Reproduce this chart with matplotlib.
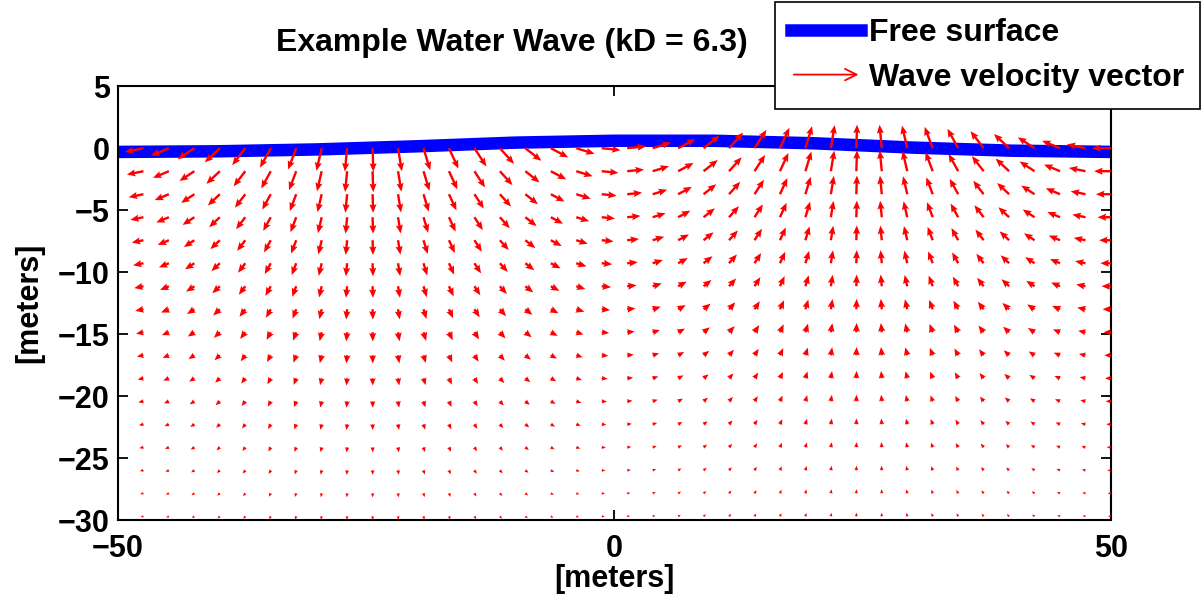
import numpy as np
import matplotlib
matplotlib.use("Agg")
import matplotlib.pyplot as plt
from matplotlib.lines import Line2D
from matplotlib.legend_handler import HandlerBase
from matplotlib.patches import FancyArrowPatch

plt.rcParams["font.family"] = ["Liberation Sans", "DejaVu Sans"]
plt.rcParams["font.weight"] = "bold"

# Wave parameters (one wavelength across the plot).
wavelength = 100.0        # m
kD = 6.3                  # k * water depth
surface_arrow_len = 1.9   # arrow length (m, data units) at the free surface

# Sampling grid of the velocity field.
grid_x_limits = [-50.0, 50.0]
grid_n_cols = 40
grid_z_limits = [0.0, -29.7]
grid_n_rows = 17

# Free surface elevation.
surface_x = [-50, -40, -30, -20, -10, 0, 10, 20, 30, 40, 50]
surface_eta = [-0.3, -0.25, -0.1, 0.15, 0.45, 0.6, 0.6, 0.4, 0.05, -0.2, -0.3]

x_ticks = [-50, 0, 50]
y_ticks = [-30, -25, -20, -15, -10, -5, 0, 5]


class ArrowHandler(HandlerBase):
    def create_artists(self, legend, orig_handle, xdescent, ydescent,
                       width, height, fontsize, trans):
        y = height / 2 - ydescent
        arrow = FancyArrowPatch((-xdescent, y), (width - xdescent, y),
                                arrowstyle="->", mutation_scale=fontsize * 0.9,
                                color="red", lw=1.3, transform=trans)
        return [arrow]


def main() -> None:
    k = 2 * np.pi / wavelength
    depth = kD / k
    xs = np.linspace(*grid_x_limits, grid_n_cols)
    zs = np.linspace(*grid_z_limits, grid_n_rows)
    X, Z = np.meshgrid(xs, zs)
    U = surface_arrow_len * np.cosh(k * (Z + depth)) / np.sinh(kD) * np.cos(k * X)
    W = surface_arrow_len * np.sinh(k * (Z + depth)) / np.sinh(kD) * np.sin(k * X)

    fig = plt.figure(figsize=(12.04, 6.03), dpi=100)
    ax = fig.add_axes([0.098, 0.1376, 0.8247, 0.7194])

    ax.plot(surface_x, surface_eta, color="blue", lw=9, solid_capstyle="butt",
            zorder=2)
    ax.quiver(X, Z, U, W, color="red", angles="xy", scale_units="xy", scale=1,
              width=0.0024, headwidth=3.0, headlength=3.6, headaxislength=3.2,
              minlength=1.2, zorder=3)

    ax.set_xlim(-50, 50)
    ax.set_ylim(-30, 5)
    ax.set_xticks(x_ticks)
    ax.set_yticks(y_ticks)
    ax.tick_params(direction="in", length=7, width=1.3, top=True, right=True,
                   labelsize=22, pad=6)
    ax.tick_params(axis="x", pad=10)
    for spine in ax.spines.values():
        spine.set_linewidth(1.5)

    ax.set_xlabel("[meters]", fontsize=22, fontweight="bold", labelpad=0)
    ax.set_ylabel("[meters]", fontsize=22, fontweight="bold", labelpad=10)
    fig.text(0.425, 0.928, "Example Water Wave (kD = 6.3)", ha="center",
             va="center", fontsize=23, fontweight="bold")

    arrow_proxy = Line2D([], [], color="red")
    surface_proxy = Line2D([], [], color="blue", lw=9)
    leg = fig.legend([surface_proxy, arrow_proxy],
                     ["Free surface", "Wave velocity vector"],
                     handler_map={arrow_proxy: ArrowHandler()},
                     loc="upper right", bbox_to_anchor=(0.997, 0.996),
                     fontsize=23, handlelength=2.2, handletextpad=0.25,
                     labelspacing=0.45, borderpad=0.5, borderaxespad=0,
                     fancybox=False, framealpha=1)
    leg.get_frame().set_edgecolor("black")
    leg.get_frame().set_linewidth(1.2)
    for t in leg.get_texts():
        t.set_fontweight("bold")

    fig.savefig("out.png", dpi=100)
    plt.close(fig)


if __name__ == "__main__":
    main()
